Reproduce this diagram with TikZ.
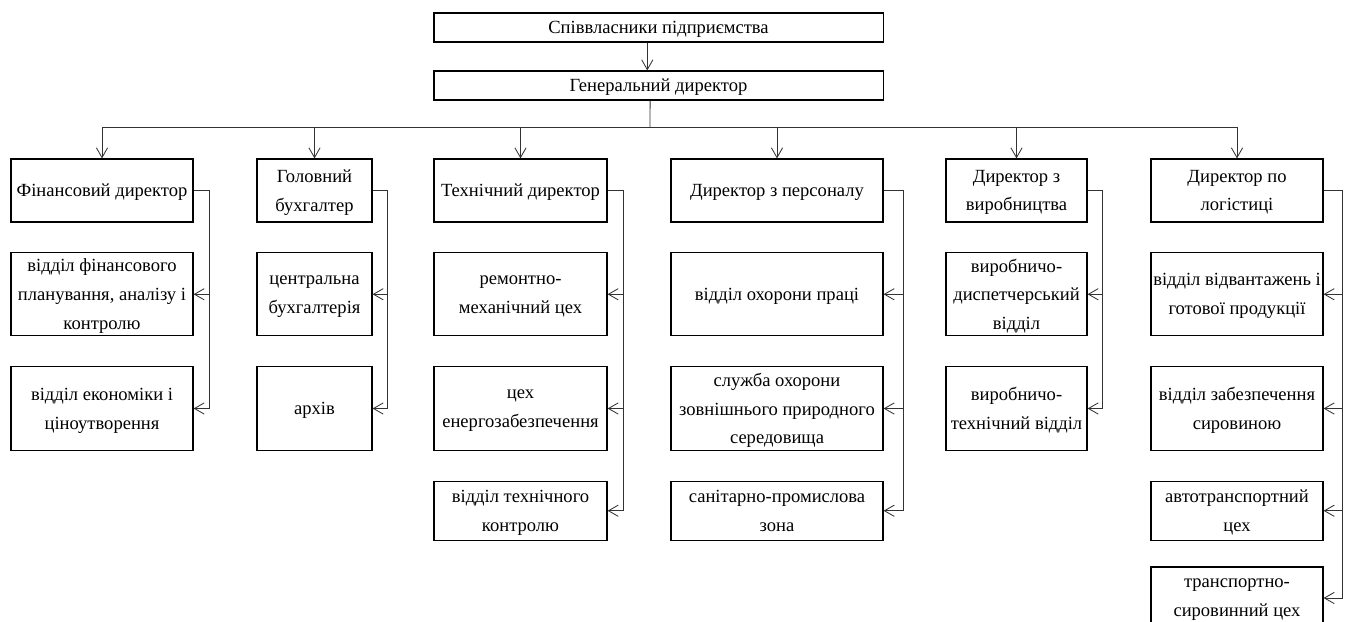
\documentclass[tikz,border=0pt]{standalone}
\usepackage{fontspec}
\setmainfont{Liberation Serif}
\usetikzlibrary{positioning, arrows.meta}

\begin{document}
\begin{tikzpicture}[
            x=0.025cm, y=-0.025cm,
            node distance=0.74cm,
            box/.style={draw, line width=0.8pt, align=center, inner xsep=1pt, inner ysep=0pt,
              text depth=-6pt, font=\fontsize{13.2}{20.5}\selectfont},
            hd/.style={minimum height=1.575cm},
            r1/.style={minimum height=2.075cm},
            r2/.style={minimum height=2.1cm},
            r3/.style={minimum height=1.475cm},
            r4/.style={minimum height=1.55cm},
            c1/.style={minimum width=4.55cm},
            c2/.style={minimum width=2.875cm},
            c3/.style={minimum width=4.325cm},
            c4/.style={minimum width=5.3cm},
            c5/.style={minimum width=3.525cm},
            c6/.style={minimum width=4.3cm},
            arrow/.style={-{Straight Barb[length=7pt, width=8pt]}, line width=0.6pt, black!80},
            link/.style={line width=0.6pt, black!80}
          ]
        \useasboundingbox (0,0) rectangle (1346,622);

        % top of the structure
        \node[box, minimum width=11.225cm, minimum height=0.725cm] (own) at (658.5,27.5) {Співвласники підприємства};
        \node[box, minimum width=11.225cm, minimum height=0.725cm] (gen) at (658.5,85.5) {Генеральний директор};

        % directors
        \node[box, c1, hd] (fin) at (102,190.5) {Фінансовий директор};
        \node[box, c2, hd] (buh) at (314.5,190.5) {Головний\\бухгалтер};
        \node[box, c3, hd] (teh) at (520.5,190.5) {Технічний директор};
        \node[box, c4, hd] (per) at (777,190.5) {Директор з персоналу};
        \node[box, c5, hd] (vyr) at (1016.5,190.5) {Директор з\\виробництва};
        \node[box, c6, hd] (log) at (1237,190.5) {Директор по\\логістиці};

        % departments
        \node[box, c1, r1, below=of fin] (finplan) {відділ фінансового\\планування, аналізу і\\контролю};
        \node[box, c1, r2, below=of finplan] (finek) {відділ економіки і\\ціноутворення};

        \node[box, c2, r1, below=of buh] (buhcen) {центральна\\бухгалтерія};
        \node[box, c2, r2, below=of buhcen] (buharh) {архів};

        \node[box, c3, r1, below=of teh] (tehrem) {ремонтно-\\механічний цех};
        \node[box, c3, r2, below=of tehrem] (tehen) {цех\\енергозабезпечення};
        \node[box, c3, r3, below=of tehen] (tehkon) {відділ технічного\\контролю};

        \node[box, c4, r1, below=of per] (perohr) {відділ охорони праці};
        \node[box, c4, r2, below=of perohr] (perser) {служба охорони\\зовнішнього природного\\середовища};
        \node[box, c4, r3, below=of perser] (perzon) {санітарно-промислова\\зона};

        \node[box, c5, r1, below=of vyr] (vyrdys) {виробничо-\\диспетчерський\\відділ};
        \node[box, c5, r2, below=of vyrdys] (vyrteh) {виробничо-\\технічний відділ};

        \node[box, c6, r1, below=of log] (logvid) {відділ відвантажень і\\готової продукції};
        \node[box, c6, r2, below=of logvid] (logsyr) {відділ забезпечення\\сировиною};
        \node[box, c6, r3, below=of logsyr] (logavt) {автотранспортний\\цех};
        \node[box, c6, r4, below=0.64cm of logavt] (logtr) {транспортно-\\сировинний цех};

        % top links
        \coordinate (bus) at (650,127);
        \draw[arrow] ([xshift=-0.28cm]own.south) -- ([xshift=-0.28cm]gen.north);
        \draw[link] ([xshift=-0.21cm]gen.south) -- (bus);
        \draw[link] (fin.north |- bus) -- (log.north |- bus);
        \draw[arrow] (fin.north |- bus) -- (fin.north);
        \draw[arrow] (buh.north |- bus) -- (buh.north);
        \draw[arrow] (teh.north |- bus) -- (teh.north);
        \draw[arrow] (per.north |- bus) -- (per.north);
        \draw[arrow] (vyr.north |- bus) -- (vyr.north);
        \draw[arrow] (log.north |- bus) -- (log.north);

        % links to departments
        \draw[arrow] (fin.east) -- ++(16,0) |- (finplan.east);
        \draw[arrow] (fin.east) -- ++(16,0) |- (finek.east);
        \draw[arrow] (buh.east) -- ++(15,0) |- (buhcen.east);
        \draw[arrow] (buh.east) -- ++(15,0) |- (buharh.east);
        \draw[arrow] (teh.east) -- ++(16,0) |- (tehrem.east);
        \draw[arrow] (teh.east) -- ++(16,0) |- (tehen.east);
        \draw[arrow] (teh.east) -- ++(16,0) |- (tehkon.east);
        \draw[arrow] (per.east) -- ++(20,0) |- (perohr.east);
        \draw[arrow] (per.east) -- ++(20,0) |- (perser.east);
        \draw[arrow] (per.east) -- ++(20,0) |- (perzon.east);
        \draw[arrow] (vyr.east) -- ++(15,0) |- (vyrdys.east);
        \draw[arrow] (vyr.east) -- ++(15,0) |- (vyrteh.east);
        \draw[arrow] (log.east) -- ++(19,0) |- (logvid.east);
        \draw[arrow] (log.east) -- ++(19,0) |- (logsyr.east);
        \draw[arrow] (log.east) -- ++(19,0) |- (logavt.east);
        \draw[arrow] (log.east) -- ++(19,0) |- (logtr.east);

        \end{tikzpicture}
\end{document}
